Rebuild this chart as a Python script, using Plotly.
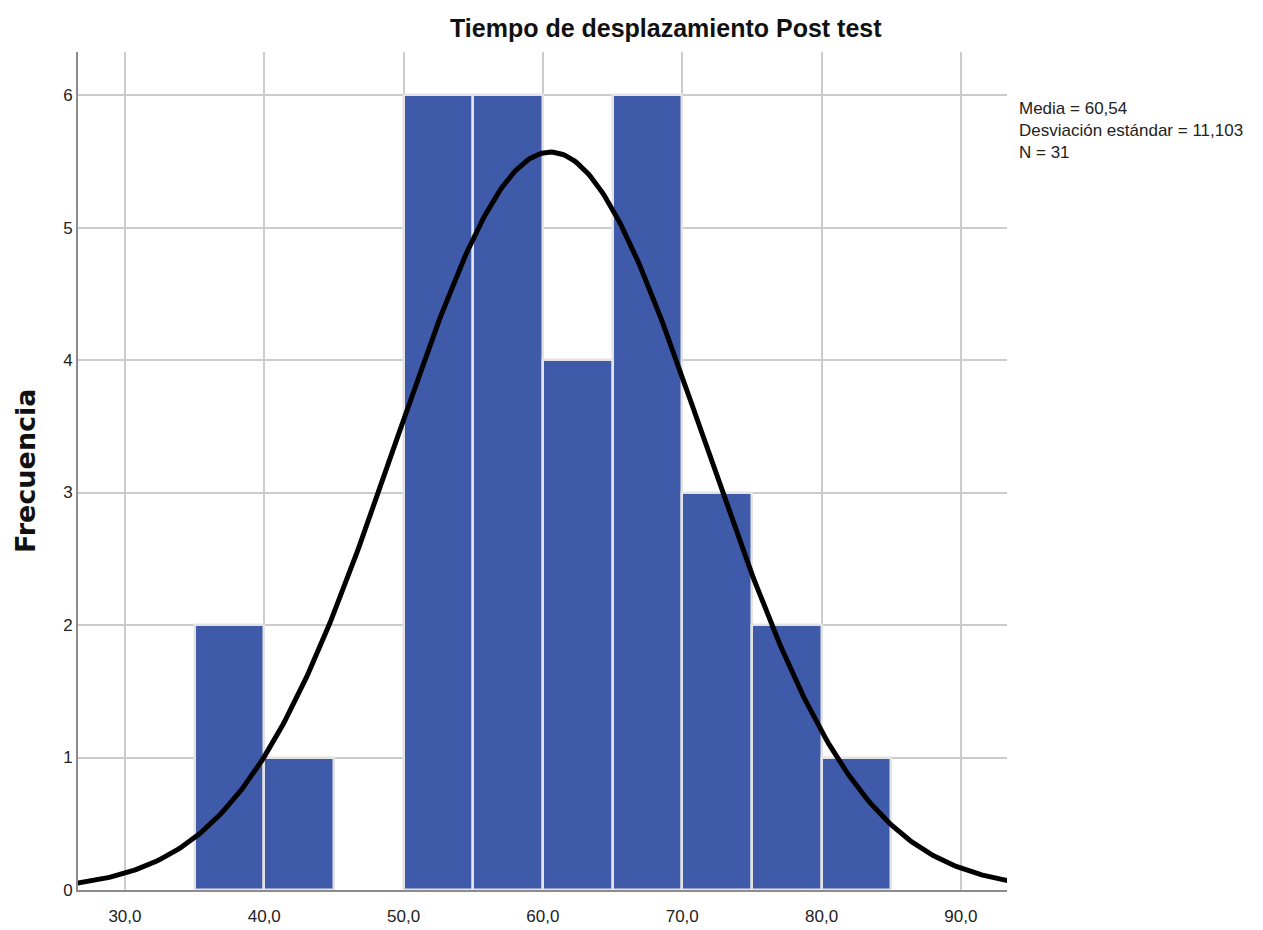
import numpy as np
import plotly.graph_objects as go

# Data
bin_starts = [35, 40, 45, 50, 55, 60, 65, 70, 75, 80]
counts = [2, 1, 0, 6, 6, 4, 6, 3, 2, 1]
bin_width = 5
mean = 60.54
std = 11.103
n = 31
x_ticks = [30, 40, 50, 60, 70, 80, 90]
y_ticks = [0, 1, 2, 3, 4, 5, 6]

FONT = "Liberation Sans Narrow, Arial Narrow, Liberation Sans, Arial"

fig = go.Figure()
fig.add_trace(go.Bar(
    x=[b + bin_width / 2 for b in bin_starts], y=counts, width=bin_width,
    marker=dict(color="#3f5aa8",
                line=dict(color="#e3e3e3", width=[2.5 if c > 0 else 0 for c in counts])),
    showlegend=False, hoverinfo="skip"))

xs = np.linspace(26.6, 93.4, 400)
ys = n * bin_width * np.exp(-0.5 * ((xs - mean) / std) ** 2) / (std * np.sqrt(2 * np.pi))
fig.add_trace(go.Scatter(x=xs, y=ys, mode="lines", line=dict(color="black", width=5),
                         showlegend=False, hoverinfo="skip"))

fig.update_layout(
    width=1263, height=930,
    margin=dict(l=78, r=256, t=52, b=40),
    plot_bgcolor="white", paper_bgcolor="white",
    separators=",.",
    bargap=0,
    font=dict(family=FONT, size=17, color="#222"),
    xaxis=dict(range=[26.63, 93.31], tickvals=x_ticks, tickformat=".1f",
               showgrid=True, gridcolor="#cccccc", gridwidth=2,
               showline=True, linecolor="#8c8c8c", linewidth=2,
               zeroline=False, ticks="", ticklen=0, ticklabelstandoff=10, automargin=False,
               tickfont=dict(family=FONT, size=17, color="#222")),
    yaxis=dict(range=[0, 6.325], tickvals=y_ticks,
               showgrid=True, gridcolor="#cccccc", gridwidth=2,
               showline=True, linecolor="#8c8c8c", linewidth=2,
               zeroline=False, ticks="", ticklen=0, automargin=False,
               tickfont=dict(family=FONT, size=17, color="#222")),
    annotations=[
        dict(text="<b>Tiempo de desplazamiento Post test</b>", xref="paper", yref="paper",
             x=(666 - 78) / 929, y=1, yshift=24, xanchor="center", yanchor="middle", showarrow=False,
             font=dict(family=FONT, size=25, color="#111")),
        dict(text="<b>Frecuencia</b>", xref="paper", yref="paper",
             x=(25 - 78) / 929, y=0.5, xanchor="center", yanchor="middle", textangle=-90,
             showarrow=False, font=dict(family="DejaVu Sans", size=27, color="#111")),
        dict(text=f"Media = 60,54<br>Desviación estándar = 11,103<br>N = {n}", xref="paper", yref="paper",
             x=(1017 - 78) / 929, y=(890 - 97) / 838, xanchor="left", yanchor="top", align="left",
             showarrow=False, font=dict(family=FONT, size=17, color="#222")),
    ],
)

fig.write_html("out.html")
